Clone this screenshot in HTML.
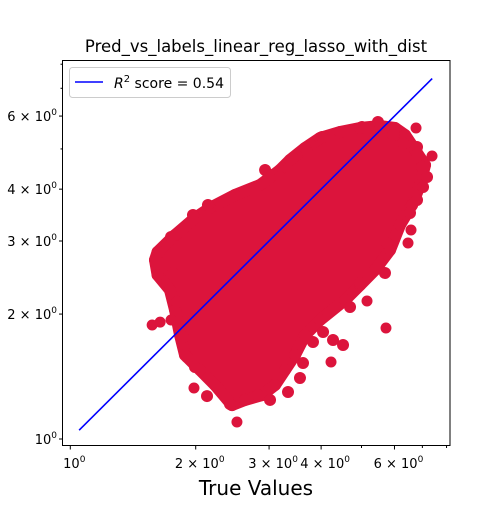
<!DOCTYPE html>
<html><head><meta charset="utf-8"><style>
body{margin:0;background:#fff}
svg text{font-family:"DejaVu Sans","Liberation Sans",sans-serif;fill:#000}
</style></head><body>
<svg id="chart" width="500" height="500" viewBox="0 0 500 500" xmlns="http://www.w3.org/2000/svg">
<rect width="500" height="500" fill="#fff"/>
<text x="256" y="52" font-size="16.5" text-anchor="middle">Pred_vs_labels_linear_reg_lasso_with_dist</text>
<g id="cloud"></g>
<g id="lineg"></g>
<rect x="62.5" y="60.5" width="387.5" height="385" fill="none" stroke="#000" stroke-width="1"/>
<g id="xt"></g>
<g id="yt"></g>
<text x="256" y="495" font-size="20" text-anchor="middle">True Values</text>
<g>
<rect x="69.5" y="67.5" width="161" height="30" rx="3" fill="#fff" stroke="#ccc"/>
<line x1="75" y1="82" x2="103" y2="82" stroke="#0000ff" stroke-width="1.6"/>
<text x="114" y="88" font-size="14"><tspan font-style="italic">R</tspan><tspan font-size="10" dy="-6">2</tspan><tspan dy="6"> score = 0.54</tspan></text>
</g>
</svg>
<script>
const cloudTrue=[1.62,1.784,1.992,2.164,2.485,2.854,3.187,3.369,3.661,3.976,4.441,4.961,5.538,6.018,6.36,6.722,7.104,6.909,6.612,6.187,5.854,5.387,4.961,4.566,3.976,3.661,3.463,3.277,3.1,2.885,2.627,2.444,2.225,2.048,1.885,1.834,1.784,1.735,1.62,1.597];
const cloudPred=[2.822,3.101,3.409,3.603,3.873,4.093,4.448,4.703,5.026,5.313,5.493,5.616,5.678,5.616,5.402,4.971,4.573,4.093,3.664,3.280,2.854,2.555,2.350,2.163,1.935,1.780,1.594,1.467,1.349,1.276,1.242,1.207,1.349,1.467,1.594,1.780,2.046,2.286,2.485,2.700];
const edgeTrue=[2.935,3.050,2.140,1.970,1.745,1.633,1.764,1.804,1.865,1.906,1.992,2.129,2.417,2.822,3.016,3.331,3.559,3.619,3.824,4.043,4.272,4.515,4.693,4.961,5.538,5.693,5.756,6.538,6.796,7.026,7.183,6.987,6.796,6.290,5.953,5.477,5.014,4.020,3.700,3.424,3.187];
const edgePred=[4.448,4.326,3.664,3.466,3.067,2.822,2.512,2.138,1.761,1.576,1.491,1.269,1.214,1.276,1.242,1.298,1.403,1.524,1.713,1.811,1.732,1.685,2.080,2.376,2.655,2.512,2.967,3.504,3.767,4.047,4.279,4.523,5.053,5.167,5.402,5.805,5.646,5.343,4.916,4.755,4.279];
const outTrue=[1.572,1.643,1.745,6.759,7.384,5.724,6.466,4.225,2.512,1.981,5.155,6.574];
const outPred=[1.882,1.913,1.935,5.616,4.808,1.851,2.967,1.533,1.099,1.327,2.150,3.189];
const lineTrue=[1.05,7.39];
const xTicks=[1,2,3,4,6];
const xMinor=[5,7,8];
const yTicks=[1,2,3,4,6];
const yMinor=[5,7,8];
const NS='http://www.w3.org/2000/svg';
const X=v=>70.3+Math.log10(v)*416.6;
const Y=v=>439-Math.log10(v)*415;
const C='#dc143c';
function mk(t,a,p){const e=document.createElementNS(NS,t);for(const k in a)e.setAttribute(k,a[k]);p.appendChild(e);return e;}
const cloud=document.getElementById('cloud');
const pts=cloudTrue.map((v,i)=>X(v)+','+Y(cloudPred[i])).join(' ');
const poly=mk('polygon',{points:pts,fill:C,stroke:C,'stroke-width':12,'stroke-linejoin':'round'},cloud);


cloudTrue.forEach((v,i)=>{const c=mk('circle',{cx:X(v),cy:Y(cloudPred[i]),r:6,fill:C},cloud);

});
edgeTrue.forEach((v,i)=>{const c=mk('circle',{cx:X(v),cy:Y(edgePred[i]),r:6,fill:C},cloud);

});
outTrue.forEach((v,i)=>{const c=mk('circle',{cx:X(v),cy:Y(outPred[i]),r:5.5,fill:C},cloud);

});
const lg=document.getElementById('lineg');
const ln=mk('line',{x1:X(lineTrue[0]),y1:Y(lineTrue[0]),x2:X(lineTrue[1]),y2:Y(lineTrue[1]),stroke:'#0000ff','stroke-width':1.6},lg);


const xt=document.getElementById('xt'),yt=document.getElementById('yt');
function lab(p,x,y,v,anchor){const t=mk('text',{x:x,y:y,'font-size':13,'text-anchor':anchor},p);


const pre=v===1?'10':v+' × 10';t.innerHTML=pre+'<tspan font-size="9" dy="-6">0</tspan>';}
xTicks.forEach(v=>{mk('line',{x1:X(v),x2:X(v),y1:446,y2:449.5,stroke:'#000'},xt);lab(xt,X(v)+4,468,v,'middle');});
xMinor.forEach(v=>mk('line',{x1:X(v),x2:X(v),y1:446,y2:448,stroke:'#000'},xt));
yTicks.forEach(v=>{mk('line',{x1:59,x2:62.5,y1:Y(v),y2:Y(v),stroke:'#000'},yt);lab(yt,57,Y(v)+5,v,'end');});
yMinor.forEach(v=>mk('line',{x1:60.5,x2:62.5,y1:Y(v),y2:Y(v),stroke:'#000'},yt));
</script>
</body></html>
